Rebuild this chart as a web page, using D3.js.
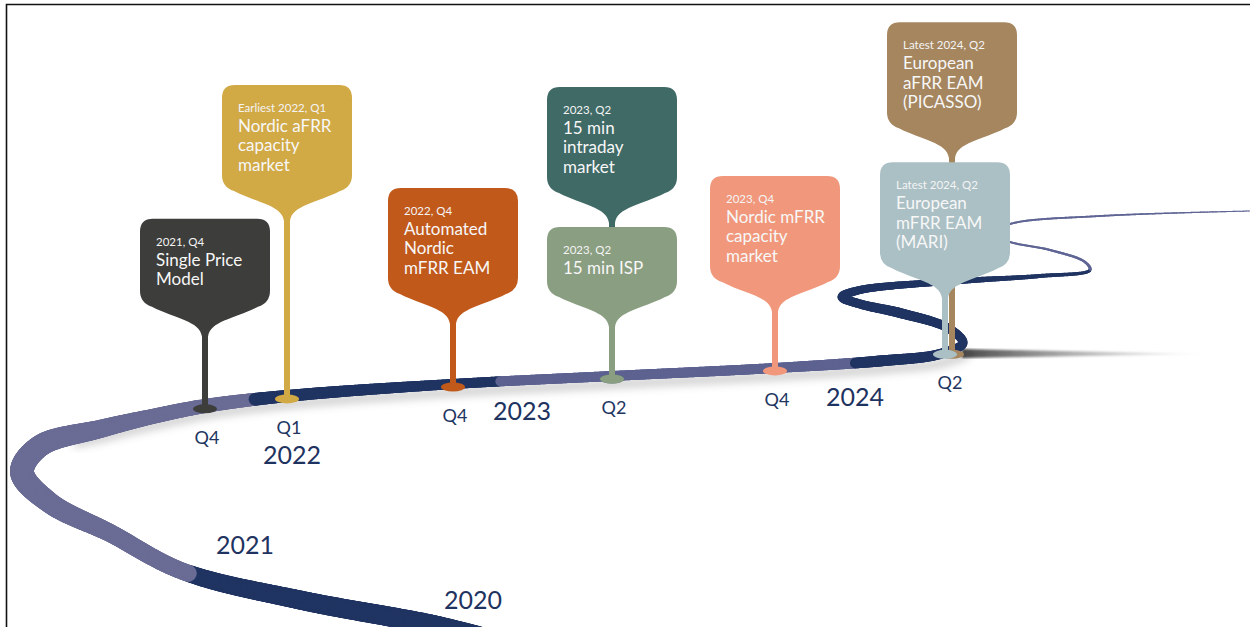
<!DOCTYPE html>
<html>
<head>
<meta charset="utf-8">
<script src="https://cdn.jsdelivr.net/npm/d3@7"></script>
<style>
  body { margin: 0; background: #fff; }
  svg { display: block; font-family: Lato, "Open Sans", sans-serif; }
</style>
</head>
<body>
<svg id="chart" width="1250" height="627"></svg>
<script>
// milestones
const milestoneTitles = [
  ["Single Price", "Model"],
  ["Nordic aFRR", "capacity", "market"],
  ["Automated", "Nordic", "mFRR EAM"],
  ["15 min", "intraday", "market"],
  ["15 min ISP"],
  ["Nordic mFRR", "capacity", "market"],
  ["European", "aFRR EAM", "(PICASSO)"],
  ["European", "mFRR EAM", "(MARI)"]
];
const milestoneDates = ["2021, Q4", "Earliest 2022, Q1", "2022, Q4", "2023, Q2", "2023, Q2", "2023, Q4", "Latest 2024, Q2", "Latest 2024, Q2"];
// quarter index counted from 2021 Q1 = 0
const milestoneQuarter = [3, 4, 7, 9, 9, 11, 13, 13];
const milestoneColors = ["#3d3d3b", "#d1a945", "#c1591b", "#3f6a66", "#8a9e81", "#f1977b", "#a5865f", "#abc0c5"];
const milestoneStack = [0, 0, 0, 1, 0, 0, 1, 0];

const quarterTicks = [3, 4, 7, 9, 11, 13];
const quarterLabels = ["Q4", "Q1", "Q4", "Q2", "Q4", "Q2"];
const yearLabels = ["2020", "2021", "2022", "2023", "2024"];

// layout
const W = 1250, H = 627;
const svg = d3.select("#chart");
const x = d3.scaleLinear().domain([3, 4, 7, 9, 11, 13]).range([205, 287, 453, 612, 775, 948]);
const stemLen = [72, 178, 63, 0, 52, 59, 0, 56];
const xNudge = [0, 0, 0, 0, 0, 0, 4, -3];
const yearPos = [[473, 609], [245, 554], [292, 464], [522, 420], [855, 406]];
const boxW = 130, funnelH = 40, stemW = 6, stackGap = 4;
const bodyH = n => 42 + 18 * n;

// the road: [x, y, width]
const roadPts = [
  [500, 642, 20], [433, 625, 20], [300, 600, 19], [182, 571, 17], [110, 533, 18], [50, 503, 21],
  [22, 472, 24], [40, 446, 22], [100, 429, 18], [150, 417, 15], [205, 406, 14], [287, 396, 12],
  [453, 384, 10], [612, 376, 10], [775, 368, 10], [880, 361, 11], [940, 354, 10], [963, 343, 9],
  [948, 328, 9], [900, 313, 10], [860, 304, 9], [842, 297, 9], [860, 290, 8], [960, 281, 6],
  [1040, 276, 4], [1090, 270, 3], [1085, 262, 2.5], [1050, 250, 2.2], [1010, 242, 2],
  [992, 234, 2], [1010, 224, 2], [1100, 216, 1.8], [1250, 211, 1]
];
const roadBreaks = [[190, 568], [255, 400], [500, 382], [855, 362], [1090, 270]];
const roadColors = ["#203462", "#6a6c95", "#203462", "#5d6290", "#203462", "#5f6594"];

const defs = svg.append("defs");
defs.append("filter").attr("id", "blur4").append("feGaussianBlur").attr("stdDeviation", 4);
defs.append("filter").attr("id", "blur1").append("feGaussianBlur").attr("stdDeviation", 1.2);
const grad = defs.append("linearGradient").attr("id", "streak").attr("x1", 0).attr("x2", 1);
grad.append("stop").attr("offset", 0).attr("stop-color", "#333").attr("stop-opacity", 0.9);
grad.append("stop").attr("offset", 1).attr("stop-color", "#999").attr("stop-opacity", 0);

// sample the road curve
const roadLine = d3.line().curve(d3.curveCatmullRom.alpha(0.5));
const tmp = svg.append("path").attr("d", roadLine(roadPts.map(p => [p[0], p[1]]))).attr("fill", "none");
const node = tmp.node();
const total = node.getTotalLength();
const samples = d3.range(0, total, 1.5).map(l => {
  const p = node.getPointAtLength(l);
  return { x: p.x, y: p.y, l };
});
tmp.remove();

// nearest sample to a point, searching forward from `from`
function nearest(p, from) {
  let best = from, bd = Infinity;
  for (let i = from; i < samples.length; i++) {
    const d = Math.hypot(samples[i].x - p[0], samples[i].y - p[1]);
    if (d < bd) { bd = d; best = i; }
  }
  return best;
}

let last = 0;
const ctrlIdx = roadPts.map(p => (last = nearest(p, last)));
samples.forEach((s, i) => {
  let k = d3.bisectRight(ctrlIdx, i) - 1;
  k = Math.max(0, Math.min(k, roadPts.length - 2));
  const t = (i - ctrlIdx[k]) / Math.max(1, ctrlIdx[k + 1] - ctrlIdx[k]);
  s.w = roadPts[k][2] + (roadPts[k + 1][2] - roadPts[k][2]) * Math.max(0, Math.min(1, t));
});
let lb = 0;
const breakIdx = roadBreaks.map(p => (lb = nearest(p, lb)));

// shadows under the road
const bendIdx = d3.minIndex(samples, s => s.x);
const shadowPts = samples.filter((s, i) => i > bendIdx + 40 && s.x < 965 && i < ctrlIdx[17]);
svg.append("path")
  .attr("d", d3.line().x(s => s.x + 6).y(s => s.y + 8)(shadowPts))
  .attr("fill", "none").attr("stroke", "#8d8d8d").attr("stroke-width", 8)
  .attr("opacity", 0.45).attr("filter", "url(#blur4)");
svg.append("path")
  .attr("d", "M962,349 L1210,354 L962,358 Z")
  .attr("fill", "url(#streak)").attr("filter", "url(#blur1)");

// road segments
const roadG = svg.append("g").attr("stroke-linecap", "round");
for (let i = 0; i < samples.length - 1; i++) {
  const seg = d3.bisectRight(breakIdx, i);
  roadG.append("line")
    .attr("x1", samples[i].x).attr("y1", samples[i].y)
    .attr("x2", samples[i + 1].x).attr("y2", samples[i + 1].y)
    .attr("stroke", roadColors[seg])
    .attr("stroke-width", samples[i].w);
}

// y of the road at a given x (upper branch, after the left bend)
function roadY(px) {
  for (let i = bendIdx; i < samples.length; i++) {
    if (samples[i].x >= px) return samples[i].y;
  }
  return samples[samples.length - 1].y;
}

// pin outline: rounded box narrowing into the stem
function pinPath(cx, y0, h) {
  const x0 = cx - boxW / 2, x1 = cx + boxW / 2, r = 13;
  const yb = y0 + h, yf = yb + funnelH, s = stemW / 2;
  return `M${x0 + r},${y0} H${x1 - r} Q${x1},${y0} ${x1},${y0 + r} V${yb - 6}
    Q${x1},${yb + 6} ${x1 - 12},${yb + 10}
    C${cx + 30},${yb + 22} ${cx + s + 2},${yb + 24} ${cx + s},${yf}
    H${cx - s}
    C${cx - s - 2},${yb + 24} ${cx - 30},${yb + 22} ${x0 + 12},${yb + 10}
    Q${x0},${yb + 6} ${x0},${yb - 6} V${y0 + r} Q${x0},${y0} ${x0 + r},${y0} Z`;
}

const pins = milestoneTitles.map((t, i) => {
  const cx = x(milestoneQuarter[i]) + xNudge[i];
  const baseY = roadY(x(milestoneQuarter[i])) + 3;
  return { i, cx, baseY, h: bodyH(t.length) };
});
pins.filter(p => milestoneStack[p.i] === 0).forEach(p => {
  p.top = p.baseY - stemLen[p.i] - funnelH - p.h;
});
pins.filter(p => milestoneStack[p.i] === 1).forEach(p => {
  const below = pins.find(q => milestoneStack[q.i] === 0 && milestoneQuarter[q.i] === milestoneQuarter[p.i]);
  p.top = below.top - stackGap - funnelH - p.h;
});

const order = pins.slice().sort((a, b) => milestoneStack[b.i] - milestoneStack[a.i]);
const pinG = svg.append("g");
order.forEach(p => {
  const g = pinG.append("g");
  const col = milestoneColors[p.i];
  g.append("rect")
    .attr("x", p.cx - stemW / 2).attr("y", p.top + p.h + funnelH - 1)
    .attr("width", stemW).attr("height", p.baseY - (p.top + p.h + funnelH) + 1)
    .attr("fill", col);
  g.append("ellipse").attr("cx", p.cx).attr("cy", p.baseY).attr("rx", 12).attr("ry", 4.5).attr("fill", col);
  g.append("path").attr("d", pinPath(p.cx, p.top, p.h)).attr("fill", col);
  const tx = p.cx - boxW / 2 + 16;
  g.append("text").attr("x", tx).attr("y", p.top + 27)
    .attr("fill", "#f4f4f4").attr("font-size", 11.5).text(milestoneDates[p.i]);
  g.append("text").attr("fill", "#f7f7f7").attr("font-size", 17)
    .selectAll("tspan").data(milestoneTitles[p.i]).join("tspan")
    .attr("x", tx).attr("y", (d, k) => p.top + 47 + k * 19.5).text(d => d);
});

// quarter labels
svg.append("g").selectAll("text").data(quarterTicks).join("text")
  .attr("x", d => x(d) + 2).attr("y", d => roadY(x(d)) + 38)
  .attr("text-anchor", "middle").attr("fill", "#22355f").attr("font-size", 18)
  .text((d, i) => quarterLabels[i]);

// year labels
svg.append("g").selectAll("text").data(yearLabels).join("text")
  .attr("x", (d, i) => yearPos[i][0]).attr("y", (d, i) => yearPos[i][1])
  .attr("text-anchor", "middle").attr("fill", "#1f3361").attr("font-size", 25)
  .text(d => d);

// frame
svg.append("path").attr("d", `M6.5,${H} V4.5 H${W}`).attr("fill", "none").attr("stroke", "#111").attr("stroke-width", 1.6);
</script>
</body>
</html>
